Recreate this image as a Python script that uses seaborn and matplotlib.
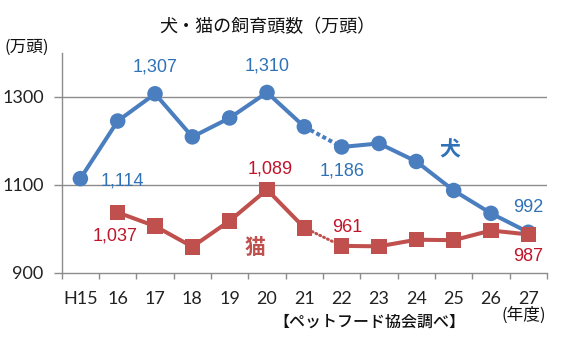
import matplotlib
matplotlib.use("Agg")
import matplotlib.pyplot as plt
import seaborn as sns
import pandas as pd
import numpy as np

# ---- data ----
years = ["H15", "16", "17", "18", "19", "20", "21", "22", "23", "24", "25", "26", "27"]
dogs = [1114, 1245, 1307, 1209, 1252, 1310, 1232, 1186, 1194, 1153, 1087, 1035, 992]
cats = [np.nan, 1037, 1006, 959, 1018, 1089, 1002, 961, 960, 975, 974, 996, 987]
y_ticks = [900, 1100, 1300]
title = "犬・猫の飼育頭数（万頭）"
y_unit = "(万頭)"
x_unit = "(年度)"
source = "【ペットフード協会調べ】"

sns.set_style("white")
JP = ["Noto Sans CJK JP", "DejaVu Sans"]
plt.rcParams["font.family"] = JP

W, H = 563, 349
fig = plt.figure(figsize=(W / 100, H / 100), dpi=100)
ax = fig.add_axes([61.7 / W, 76.3 / H, (547 - 61.7) / W, 219.8 / H])

pos = np.arange(len(years))
df = pd.DataFrame({"pos": pos, "year": years, "dog": dogs, "cat": cats})

DOG_LINE = "#4A7EBF"
DOG_TXT = "#2F72B7"
CAT_LINE = "#C0504D"
CAT_TXT = "#C0142A"
LW = 2.9

gap_a, gap_b = 6, 7  # 21 -> 22 dotted segment
dot_styles = {
    "dog": dict(lw=2.9, ls=(0, (1.0, 0.7)), cap="butt"),
    "cat": dict(lw=2.2, ls=(0, (0.3, 1.1)), cap="round"),
}
for col, lc, mk in [("dog", DOG_LINE, "o"), ("cat", CAT_LINE, "s")]:
    sub = df.dropna(subset=[col])
    part1 = sub[sub.pos <= gap_a]
    part2 = sub[sub.pos >= gap_b]
    dotted = sub[(sub.pos >= gap_a) & (sub.pos <= gap_b)]
    for part in (part1, part2):
        sns.lineplot(data=part, x="pos", y=col, color=lc, lw=LW, ax=ax,
                     estimator=None, sort=True, zorder=3,
                     solid_joinstyle="miter")
    st = dot_styles[col]
    sns.lineplot(data=dotted, x="pos", y=col, color=lc, lw=st["lw"], ax=ax,
                 estimator=None, zorder=3)
    ax.lines[-1].set_linestyle(st["ls"])
    ax.lines[-1].set_dash_capstyle(st["cap"])
    sns.scatterplot(data=sub, x="pos", y=col, color=lc, marker=mk, s=125,
                    edgecolor="none", linewidth=0, ax=ax, zorder=4)

ax.set_xlim(-0.5, len(years) - 0.5)
ax.set_ylim(900, 1400)
ax.set_xlabel("")
ax.set_ylabel("")

# grid & spines
for yv in y_ticks[1:]:
    ax.axhline(yv, color="#8C8C8C", lw=1.0, zorder=1)
for s in ("top", "right"):
    ax.spines[s].set_visible(False)
for s in ("left", "bottom"):
    ax.spines[s].set_color("#8C8C8C")
    ax.spines[s].set_linewidth(1.0)

ax.set_yticks(y_ticks)
ax.set_yticklabels([str(v) for v in y_ticks], family=["Lato", "DejaVu Sans"], fontsize=13, color="#222222")
ax.tick_params(axis="y", direction="out", length=6, width=1, color="#8C8C8C", pad=7, left=True)

ax.set_xticks(pos)
ax.set_xticklabels(years, family=["Lato", "DejaVu Sans"], fontsize=13, color="#222222")
ax.tick_params(axis="x", which="major", length=0, pad=13, bottom=True)
ax.set_xticks(np.arange(-0.5, len(years), 1.0), minor=True)
ax.tick_params(axis="x", which="minor", direction="out", length=4.5, width=1, color="#8C8C8C", bottom=True)

# data labels (offsets in points)
ARIAL = ["Liberation Sans", "DejaVu Sans"]
def lab(i, val, dx, dy, c):
    ax.annotate(f"{int(val):,}", (pos[i], val), xytext=(dx, dy), textcoords="offset points",
                ha="center", va="center", fontsize=13, color=c, family=ARIAL, zorder=5)

lab(0, dogs[0], 30, -1.5, DOG_TXT)
lab(2, dogs[2], 0, 19, DOG_TXT)
lab(5, dogs[5], 0, 19, DOG_TXT)
lab(7, dogs[7], 0, -17, DOG_TXT)
lab(12, dogs[12], 0, 17.5, DOG_TXT)
lab(1, cats[1], -2, -17, CAT_TXT)
lab(5, cats[5], 2, 15, CAT_TXT)
lab(7, cats[7], 4, 13, CAT_TXT)
lab(12, cats[12], 0, -16, CAT_TXT)

# series names
def fig_text(x, y, s, **kw):
    fig.text(x / W, 1 - y / H, s, **kw)

fig_text(450, 150, "犬", ha="center", va="center", fontsize=15, fontweight="bold", color=DOG_TXT, family=JP)
fig_text(255, 247, "猫", ha="center", va="center", fontsize=15, fontweight="bold", color=CAT_LINE, family=JP)

fig_text(267, 27, title, ha="center", va="center", fontsize=13, color="#111111", family=JP)
fig_text(27, 47, y_unit, ha="center", va="center", fontsize=12, color="#111111", family=JP)
fig_text(524, 315, x_unit, ha="center", va="center", fontsize=12, color="#111111", family=JP)
fig_text(369, 322, source, ha="center", va="center", fontsize=11.5, fontweight="medium", color="#111111", family=JP)

fig.savefig("out.png", dpi=100, facecolor="white")
